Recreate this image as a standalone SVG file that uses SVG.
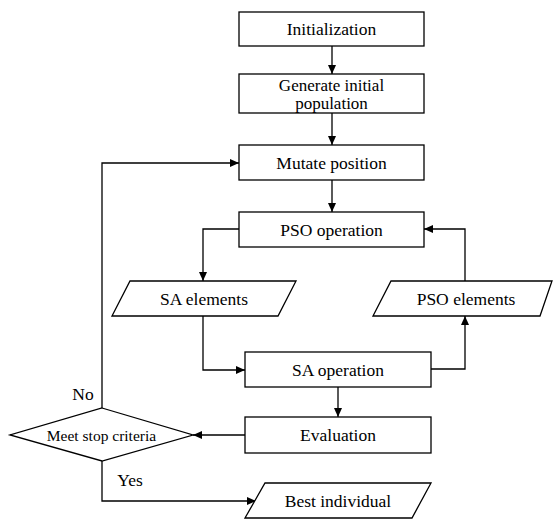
<svg xmlns="http://www.w3.org/2000/svg" width="553" height="519" viewBox="0 0 553 519">
<defs>
<marker id="ah" markerWidth="10" markerHeight="8" refX="9" refY="4" orient="auto" markerUnits="userSpaceOnUse">
<path d="M0,0 L9,4 L0,8 Z" fill="#000"/>
</marker>
<style>
.box{fill:#fff;stroke:#000;stroke-width:1.3}
.t{font-family:'Liberation Serif','DejaVu Serif',serif;font-size:17.5px;fill:#000;text-anchor:middle}
.s{font-size:15.5px}
.g{font-size:17px}
.c{fill:none;stroke:#000;stroke-width:1.3}
</style>
</defs>
<rect width="553" height="519" fill="#fff"/>
<g id="connectors">
<path class="c" d="M332,46 V74" marker-end="url(#ah)"/>
<path class="c" d="M332,113 V145" marker-end="url(#ah)"/>
<path class="c" d="M332,180 V212" marker-end="url(#ah)"/>
<path class="c" d="M239,229 H203 V281" marker-end="url(#ah)"/>
<path class="c" d="M203,316 V370 H245" marker-end="url(#ah)"/>
<path class="c" d="M431,369 H465 V316" marker-end="url(#ah)"/>
<path class="c" d="M465,281 V229 H424" marker-end="url(#ah)"/>
<path class="c" d="M338,387 V417" marker-end="url(#ah)"/>
<path class="c" d="M245,435 H193" marker-end="url(#ah)"/>
<path class="c" d="M102,408 V163 H239" marker-end="url(#ah)"/>
<path class="c" d="M102,461 V501 H256" marker-end="url(#ah)"/>
<text class="t" x="83" y="400" font-family="Liberation Serif, serif">No</text>
<text class="t" x="130" y="486" font-family="Liberation Serif, serif">Yes</text>
</g>
<g id="init">
<rect class="box" x="239" y="12" width="185" height="34"/>
<text class="t" x="331.5" y="35">Initialization</text>
</g>
<g id="generate">
<rect class="box" x="239" y="74" width="185" height="39"/>
<text class="t g" x="331.5" y="90.5">Generate initial</text>
<text class="t g" x="331.5" y="108.5">population</text>
</g>
<g id="mutate">
<rect class="box" x="239" y="145" width="185" height="35"/>
<text class="t" x="331.5" y="168.5">Mutate position</text>
</g>
<g id="pso-op">
<rect class="box" x="239" y="212" width="185" height="35"/>
<text class="t" x="331.5" y="235.5">PSO operation</text>
</g>
<g id="sa-elements">
<polygon class="box" points="130,281 296,281 278,316 112,316"/>
<text class="t" x="204" y="304.5">SA elements</text>
</g>
<g id="pso-elements">
<polygon class="box" points="391,281 552,281 540,316 373,316"/>
<text class="t" x="466" y="304.5">PSO elements</text>
</g>
<g id="sa-op">
<rect class="box" x="245" y="352" width="186" height="35"/>
<text class="t" x="338" y="375.5">SA operation</text>
</g>
<g id="evaluation">
<rect class="box" x="245" y="417" width="186" height="36"/>
<text class="t" x="338" y="441">Evaluation</text>
</g>
<g id="decision">
<polygon class="box" points="102,408 193,435 102,461 10,435"/>
<text class="t s" x="101.5" y="440.5">Meet stop criteria</text>
</g>
<g id="best">
<polygon class="box" points="265,483 431,483 412,518 245,518"/>
<text class="t" x="338" y="506.5">Best individual</text>
</g>
</svg>
